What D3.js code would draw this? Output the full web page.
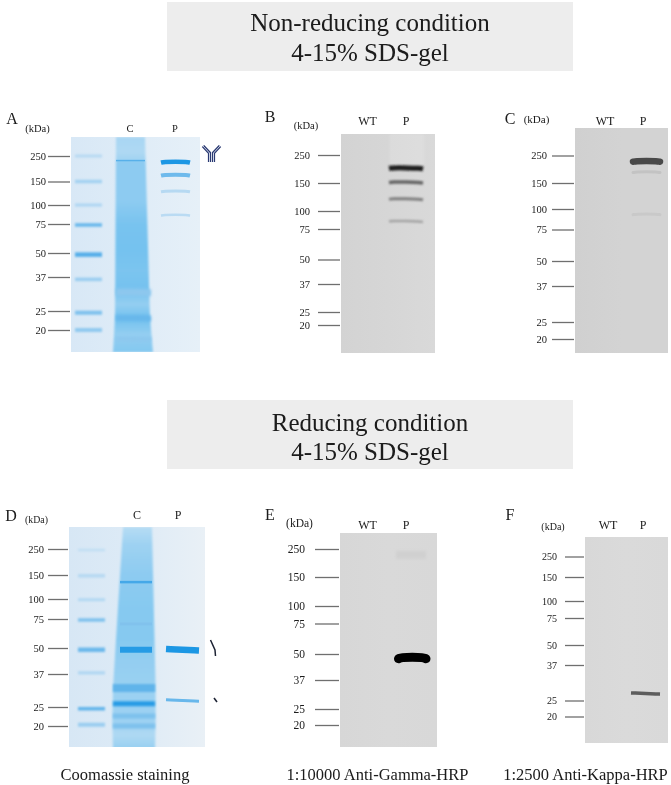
<!DOCTYPE html>
<html>
<head>
<meta charset="utf-8">
<script src="https://cdn.jsdelivr.net/npm/d3@7"></script>
<style>
body { margin: 0; background: #fff; }
text { font-family: "Liberation Serif", serif; fill: #1a1a1a; }
</style>
</head>
<body>
<div id="chart"></div>
<script>
// ---- data (kDa) ----
var markerKda = [250, 150, 100, 75, 50, 37, 25, 20];

// panel A, coomassie non-reducing
var aLadderKda = [250, 150, 100, 74, 49, 36, 24.5, 20];
var aLadderStrength = [0.2, 0.3, 0.25, 0.62, 0.72, 0.35, 0.5, 0.4];
var aCrudeKda = [365, 270, 232, 225, 107, 74, 52, 40, 32, 27, 23, 19, 15.4];
var aCrudeLevel = [0.35, 0.3, 0.4, 0.55, 0.55, 0.7, 0.72, 0.68, 0.72, 0.5, 0.75, 0.5, 0.62];
var aCrudeUpperKda = [228];
var aCrudeUpperStrength = [0.7];
var aCrudeLowerKda = [31, 23, 18];
var aCrudeLowerStrength = [0.42, 0.62, 0.42];
var aPurifiedKda = [222, 171, 127, 86];
var aPurifiedStrength = [1, 0.58, 0.2, 0.18];

// panel B and C, western blots non-reducing
var bPurifiedKda = [197, 152, 119, 85];
var bPurifiedStrength = [0.9, 0.55, 0.42, 0.25];
var cPurifiedKda = [225, 184, 93];
var cPurifiedStrength = [0.68, 0.09, 0.06];

// panel D, coomassie reducing
var dLadderKda = [245, 148, 99, 74, 49, 37.5, 24.5, 20.3];
var dLadderStrength = [0.15, 0.2, 0.22, 0.5, 0.6, 0.25, 0.65, 0.35];
var dCrudeKda = [385, 272, 150, 85, 56, 43, 31, 21, 18, 15];
var dCrudeLevel = [0.25, 0.42, 0.55, 0.6, 0.6, 0.5, 0.45, 0.42, 0.3, 0.5];
var dCrudeUpperKda = [133, 70, 49];
var dCrudeUpperStrength = [0.8, 0.48, 0.95];
var dCrudeLowerKda = [31.3, 26, 22.5, 20];
var dCrudeLowerStrength = [0.65, 0.95, 0.5, 0.5];
var dPurifiedKda = [49, 27];
var dPurifiedStrength = [1, 0.62];

// panel E and F, western blots reducing
var ePurifiedKda = [48];
var ePurifiedStrength = [1];
var eFaintKda = [225];
var eFaintStrength = [0.03];
var fPurifiedKda = [27];
var fPurifiedStrength = [0.58];

// ---- layout ----
var width = 671, height = 785;

var svg = d3.select("#chart").append("svg")
    .attr("width", width)
    .attr("height", height)
    .style("display", "block");

var defs = svg.append("defs");
[["soft05", 0.6], ["soft1", 1], ["soft15", 1.6], ["textSoft", 0.28]].forEach(function(f) {
    // fixed region: a straight band has a zero height bounding box, ticks sit in a shifted group
    defs.append("filter").attr("id", f[0])
        .attr("filterUnits", "userSpaceOnUse")
        .attr("x", -800).attr("y", -900).attr("width", 2400).attr("height", 2600)
        .append("feGaussianBlur").attr("stdDeviation", f[1]);
});

function zip(kda, strength, px, x0, x1, sag, tilt, blur, cap) {
    return kda.map(function(d, i) {
        return { kda: d, strength: strength[i], px: px[i], x0: x0, x1: x1, sag: sag || 0, tilt: tilt || 0, blur: blur || "soft05", cap: cap || "butt" };
    });
}

// one gel / blot image with its marker axis
gelPanel = function(_cfg) {
    this.cfg = _cfg;
    this.initVis();
}

gelPanel.prototype.initVis = function() {
    var vis = this, c = vis.cfg;

    vis.y = d3.scaleLog().domain(markerKda).range(c.tickY);
    vis.g = svg.append("g").attr("class", "panel-" + c.id);

    // background of the membrane or gel
    var bgId = "bg" + c.id;
    var grad = defs.append("linearGradient").attr("id", bgId);
    grad.selectAll("stop").data(c.bg).enter().append("stop")
        .attr("offset", function(d, i) { return i / (c.bg.length - 1); })
        .attr("stop-color", function(d) { return d; });

    vis.g.append("rect")
        .attr("x", c.gel[0]).attr("y", c.gel[1])
        .attr("width", c.gel[2] - c.gel[0])
        .attr("height", c.gel[3] - c.gel[1])
        .attr("fill", "url(#" + bgId + ")");

    // everything stained stays inside the gel
    var clipId = "clip" + c.id;
    defs.append("clipPath").attr("id", clipId).append("rect")
        .attr("x", c.gel[0]).attr("y", c.gel[1])
        .attr("width", c.gel[2] - c.gel[0])
        .attr("height", c.gel[3] - c.gel[1]);
    vis.marks = vis.g.append("g").attr("clip-path", "url(#" + clipId + ")");

    vis.updateVis();
}

gelPanel.prototype.updateVis = function() {
    var vis = this, c = vis.cfg;

    if (c.halo) {
        vis.marks.append("rect")
            .attr("x", c.halo[0]).attr("y", c.gel[1])
            .attr("width", c.halo[1] - c.halo[0])
            .attr("height", c.halo[2] - c.gel[1])
            .attr("fill", "#fff").attr("opacity", 0.13)
            .attr("filter", "url(#soft1)");
    }
    if (c.smear) vis.drawSmear();
    if (c.ladder) vis.drawBands(c.ladder);
    if (c.crude) vis.drawBands(c.crude);
    vis.drawBands(c.purified);

    var axis = d3.axisLeft(vis.y)
        .tickValues(markerKda)
        .tickSize(c.tickLen)
        .tickPadding(c.tickPad)
        .tickFormat(d3.format("d"));

    var ax = vis.g.append("g")
        .attr("transform", "translate(" + (c.gel[0] - 1) + ",0)")
        .call(axis);
    ax.select(".domain").remove();
    ax.selectAll(".tick line").attr("stroke", "#6f6f6f").attr("stroke-width", 1.3);
    ax.selectAll(".tick text")
        .attr("font-size", c.tickFont)
        .attr("font-family", "Liberation Serif")
        .attr("fill", "#222")
        .attr("filter", "url(#textSoft)");

    label(c.letter, c.letterPos[0], c.letterPos[1], c.letterFont || 16);
    label("(kDa)", c.kdaPos[0], c.kdaPos[1], c.kdaFont);
    c.laneLabels.forEach(function(l) { label(l[0], l[1], c.laneY, c.laneFont); });
}

gelPanel.prototype.drawSmear = function() {
    var vis = this, c = vis.cfg, s = c.smear;
    var id = "smear" + c.id;
    var color = d3.interpolateRgb("#d8e9f6", "#4fb3ec");
    var top = vis.y(s.kda[0]), bottom = vis.y(s.kda[s.kda.length - 1]);

    var grad = defs.append("linearGradient").attr("id", id)
        .attr("gradientUnits", "userSpaceOnUse")
        .attr("x1", 0).attr("x2", 0).attr("y1", top).attr("y2", bottom);
    grad.selectAll("stop").data(s.kda).enter().append("stop")
        .attr("offset", function(d) { return (vis.y(d) - top) / (bottom - top); })
        .attr("stop-color", function(d, i) { return color(s.level[i]); });

    var left = d3.scaleLinear().domain([top, s.flare, bottom]).range(s.left);
    var right = d3.scaleLinear().domain([top, s.flare, bottom]).range(s.right);
    var area = d3.area()
        .y(function(d) { return vis.y(d); })
        .x0(function(d) { return left(vis.y(d)); })
        .x1(function(d) { return right(vis.y(d)); });

    vis.marks.append("path")
        .attr("d", area(s.kda))
        .attr("fill", "url(#" + id + ")")
        .attr("filter", "url(#soft1)");
}

gelPanel.prototype.drawBands = function(bands) {
    var vis = this, c = vis.cfg;
    var color = d3.interpolateRgb(c.bandFrom, c.bandTo);
    var line = d3.line().curve(d3.curveBasis);

    vis.marks.selectAll(".none").data(bands).enter().append("path")
        .attr("d", function(d) {
            var y = vis.y(d.kda), m = (d.x0 + d.x1) / 2;
            return line([
                [d.x0, y - d.tilt + d.sag],
                [d.x0 + 3, y - d.tilt * 0.8],
                [m, y - d.sag * 0.5],
                [d.x1 - 3, y + d.tilt * 0.8],
                [d.x1, y + d.tilt + d.sag]
            ]);
        })
        .attr("fill", "none")
        .attr("stroke", function(d) { return color(d.strength); })
        .attr("stroke-width", function(d) { return d.px; })
        .attr("stroke-linecap", function(d) { return d.cap; })
        .attr("filter", function(d) { return "url(#" + d.blur + ")"; });
}

function label(txt, x, y, size, anchor) {
    svg.append("text")
        .attr("x", x).attr("y", y)
        .attr("font-size", size)
        .attr("text-anchor", anchor || "middle")
        .attr("filter", "url(#textSoft)")
        .text(txt);
}

// title boxes
function titleBox(y0, y1, lines, ys) {
    svg.append("rect")
        .attr("x", 167).attr("y", y0)
        .attr("width", 406).attr("height", y1 - y0)
        .attr("fill", "#ededed");
    lines.forEach(function(t, i) { label(t, 370, ys[i], 25); });
}
titleBox(2, 71, ["Non-reducing condition", "4-15% SDS-gel"], [31, 61]);
titleBox(400, 469, ["Reducing condition", "4-15% SDS-gel"], [431, 460]);

var blue = { bandFrom: "#dceaf6", bandTo: "#1f97e4" };
var grey = { bandFrom: "#d6d6d6", bandTo: "#050505" };

new gelPanel({
    id: "A", gel: [71, 137, 200, 352], bg: ["#d8e8f6", "#dfecf7", "#e6f0f8"],
    tickY: [156, 181.5, 205, 224, 253, 277, 311, 330],
    tickLen: 22, tickPad: 2, tickFont: 10.5,
    letter: "A", letterPos: [12, 124], kdaPos: [37.5, 132], kdaFont: 10.5,
    laneLabels: [["C", 130], ["P", 175]], laneY: 132, laneFont: 10.5,
    bandFrom: blue.bandFrom, bandTo: blue.bandTo,
    ladder: zip(aLadderKda, aLadderStrength, [3, 3.5, 3, 3.5, 4.5, 3.5, 4, 4], 75, 102, 0, 0, "soft1"),
    smear: { kda: aCrudeKda, level: aCrudeLevel, flare: 318, left: [116, 115, 113], right: [145, 150, 153] },
    crude: zip(aCrudeUpperKda, aCrudeUpperStrength, [1.5], 116, 145, 0, 0, "soft05")
        .concat(zip(aCrudeLowerKda, aCrudeLowerStrength, [7, 6, 4], 116, 151, 0, 0.3, "soft15")),
    purified: zip(aPurifiedKda, aPurifiedStrength, [4.5, 4, 3, 2.5], 161, 190, 0.7, 0, "soft05")
});

new gelPanel({
    id: "B", gel: [341, 134, 435, 353], bg: ["#d3d3d3", "#d6d6d6", "#d9d9d9"], halo: [390, 424, 165],
    tickY: [155, 183, 211, 229, 259.5, 284, 312, 325],
    tickLen: 22, tickPad: 8, tickFont: 10.5,
    letter: "B", letterPos: [270, 122], kdaPos: [306, 129], kdaFont: 10.5,
    laneLabels: [["WT", 367.5], ["P", 406]], laneY: 125, laneFont: 12,
    bandFrom: grey.bandFrom, bandTo: grey.bandTo,
    purified: zip(bPurifiedKda, bPurifiedStrength, [5, 3.5, 3, 2.5], 389, 423, 0.5, 0.3, "soft1")
});

new gelPanel({
    id: "C", gel: [575, 128, 668, 353], bg: ["#d0d0d0", "#d3d3d3", "#d3d3d3"],
    tickY: [155.5, 183, 209, 229.5, 261, 286, 322, 339],
    tickLen: 22, tickPad: 5, tickFont: 10.5,
    letter: "C", letterPos: [510, 124], kdaPos: [536.5, 123], kdaFont: 11,
    laneLabels: [["WT", 605], ["P", 643]], laneY: 125, laneFont: 12,
    bandFrom: grey.bandFrom, bandTo: grey.bandTo,
    purified: zip(cPurifiedKda, cPurifiedStrength, [6.5, 3, 3], 633, 660, 0.5, 0, "soft05", "round")
});

new gelPanel({
    id: "D", gel: [69, 527, 205, 747], bg: ["#d7e7f5", "#deebf6", "#e9f0f6"],
    tickY: [549, 575, 599, 619, 648, 674, 707, 726],
    tickLen: 20, tickPad: 4, tickFont: 10.5,
    letter: "D", letterPos: [11, 521], kdaPos: [36.5, 523], kdaFont: 9.8,
    laneLabels: [["C", 137], ["P", 178]], laneY: 519, laneFont: 12,
    bandFrom: blue.bandFrom, bandTo: blue.bandTo,
    ladder: zip(dLadderKda, dLadderStrength, [2.5, 3.5, 3, 3.5, 4.5, 3, 3.5, 4], 78, 105, 0, 0, "soft1"),
    smear: { kda: dCrudeKda, level: dCrudeLevel, flare: 704, left: [123, 112, 113], right: [152, 156, 155] },
    crude: zip(dCrudeUpperKda, dCrudeUpperStrength, [2.5, 3, 6], 120, 152, 0, 0, "soft05")
        .concat(zip(dCrudeLowerKda, dCrudeLowerStrength, [8, 5, 5, 5], 113, 155, 0, 0, "soft1")),
    purified: zip(dPurifiedKda, dPurifiedStrength, [6.5, 3], 166, 199, 0, 0.8, "soft05")
});

new gelPanel({
    id: "E", gel: [340, 533, 437, 747], bg: ["#d7d7d7", "#d9d9d9", "#d8d8d8"],
    tickY: [549, 577, 606, 623.5, 654, 680, 709, 725],
    tickLen: 24, tickPad: 10, tickFont: 11.5,
    letter: "E", letterPos: [270, 520], kdaPos: [299.5, 527], kdaFont: 11.5,
    laneLabels: [["WT", 367.5], ["P", 406]], laneY: 529, laneFont: 12,
    bandFrom: grey.bandFrom, bandTo: grey.bandTo,
    purified: zip(ePurifiedKda, ePurifiedStrength, [9], 398.5, 426, 1.2, 0, "soft05", "round")
        .concat(zip(eFaintKda, eFaintStrength, [8], 396, 426, 0, 0, "soft15"))
});

new gelPanel({
    id: "F", gel: [585, 537, 668, 743], bg: ["#d8d8d8", "#dadada", "#d9d9d9"],
    tickY: [556.5, 577, 601, 618, 645, 665, 700.5, 716.5],
    tickLen: 19, tickPad: 8, tickFont: 10,
    letter: "F", letterPos: [510, 520], kdaPos: [553, 530], kdaFont: 10,
    laneLabels: [["WT", 608], ["P", 643]], laneY: 529, laneFont: 12,
    bandFrom: grey.bandFrom, bandTo: grey.bandTo,
    purified: zip(fPurifiedKda, fPurifiedStrength, [3.5], 631, 660, 0, 0.6, "soft05")
});

// captions under the reducing row
label("Coomassie staining", 125, 780, 16.5);
label("1:10000 Anti-Gamma-HRP", 377.5, 780, 16.5);
label("1:2500 Anti-Kappa-HRP", 585.5, 780, 16.5);

// antibody glyph next to panel A, chain brackets next to panel D
var glyph = d3.line();
[[[203, 146], [209.5, 153], [209.5, 162]], [[220, 146], [213.5, 153], [213.5, 162]]].forEach(function(p) {
    svg.append("path").attr("d", glyph(p)).attr("fill", "none").attr("stroke", "#2b3a72").attr("stroke-width", 3.2);
    svg.append("path").attr("d", glyph(p)).attr("fill", "none").attr("stroke", "#dfe4f0").attr("stroke-width", 0.9);
});
[[[210.5, 640], [215, 650], [215.5, 656]], [[214, 698], [217, 702]]].forEach(function(p) {
    svg.append("path").attr("d", glyph(p)).attr("fill", "none").attr("stroke", "#1c2233").attr("stroke-width", 1.5);
});
</script>
</body>
</html>
